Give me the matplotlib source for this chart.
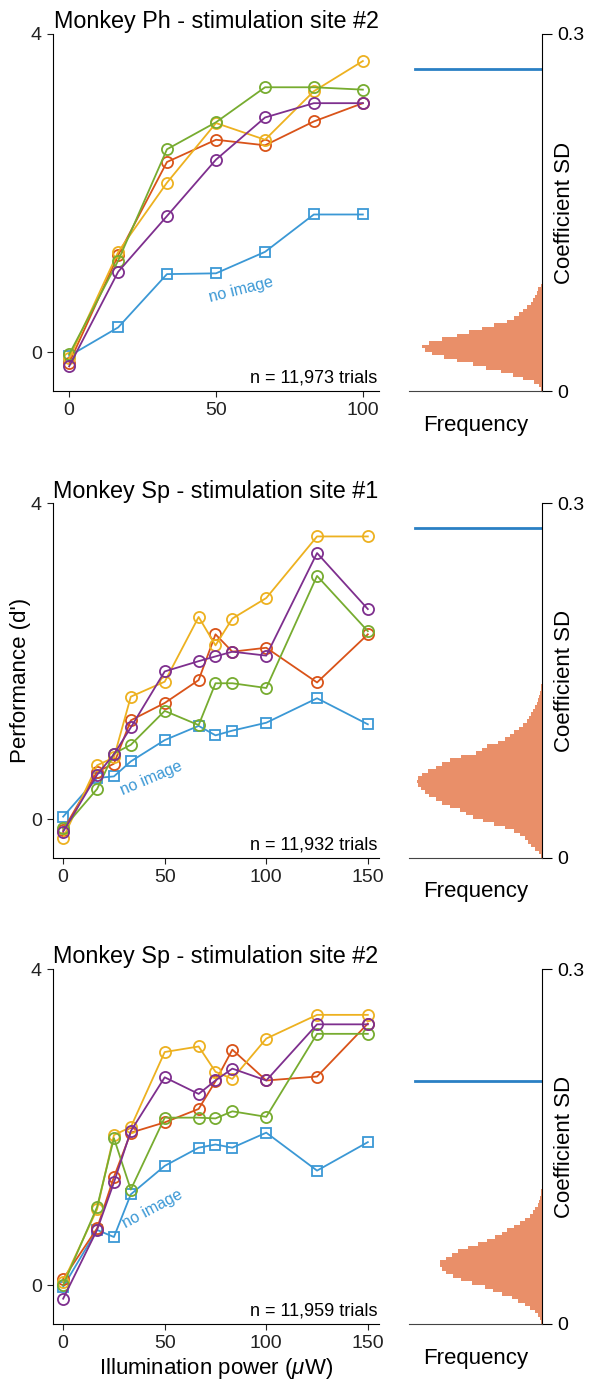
import numpy as np
import matplotlib
matplotlib.use("Agg")
import matplotlib.pyplot as plt

plt.rcParams['font.family'] = ['Liberation Sans', 'DejaVu Sans']
plt.rcParams['mathtext.fontset'] = 'custom'
plt.rcParams['mathtext.it'] = 'Liberation Sans:italic'

# illumination powers (uW)
power_ph = [0, 16.7, 33.3, 50, 66.7, 83.3, 100]
power_sp = [0, 16.7, 25, 33.3, 50, 66.7, 75, 83.3, 100, 125, 150]

# Monkey Ph - site #2
ph2_noimg = [-0.05, 0.31, 0.98, 0.99, 1.26, 1.73, 1.73]
ph2_red = [-0.14, 1.22, 2.39, 2.67, 2.60, 2.90, 3.13]
ph2_yellow = [-0.08, 1.26, 2.13, 2.88, 2.67, 3.28, 3.66]
ph2_green = [-0.03, 1.15, 2.55, 2.89, 3.33, 3.33, 3.30]
ph2_purple = [-0.18, 1.01, 1.71, 2.42, 2.95, 3.13, 3.13]

# Monkey Sp - site #1
sp1_noimg = [0.03, 0.52, 0.54, 0.73, 1.00, 1.18, 1.06, 1.12, 1.22, 1.53, 1.20]
sp1_red = [-0.14, 0.60, 0.70, 1.25, 1.47, 1.76, 2.34, 2.12, 2.17, 1.73, 2.34]
sp1_yellow = [-0.24, 0.68, 0.78, 1.55, 1.74, 2.56, 2.20, 2.54, 2.80, 3.58, 3.58]
sp1_green = [-0.12, 0.38, 0.83, 0.94, 1.37, 1.19, 1.72, 1.72, 1.66, 3.08, 2.38]
sp1_purple = [-0.16, 0.56, 0.82, 1.16, 1.87, 2.00, 2.06, 2.12, 2.07, 3.37, 2.66]

# Monkey Sp - site #2
sp2_noimg = [-0.02, 0.70, 0.61, 1.15, 1.51, 1.74, 1.78, 1.74, 1.93, 1.45, 1.81]
sp2_red = [0.08, 0.72, 1.37, 1.93, 2.06, 2.23, 2.58, 2.98, 2.59, 2.64, 3.31]
sp2_yellow = [0.04, 0.96, 1.90, 2.00, 2.95, 3.02, 2.70, 2.61, 3.12, 3.42, 3.42]
sp2_green = [0.00, 0.99, 1.86, 1.21, 2.12, 2.12, 2.11, 2.20, 2.13, 3.18, 3.18]
sp2_purple = [-0.17, 0.70, 1.30, 1.95, 2.63, 2.42, 2.59, 2.74, 2.59, 3.30, 3.30]

titles = ['Monkey Ph - stimulation site #2',
          'Monkey Sp - stimulation site #1',
          'Monkey Sp - stimulation site #2']
n_trials = ['n = 11,973 trials', 'n = 11,932 trials', 'n = 11,959 trials']

# coefficient SD histograms (bin width 0.003, relative frequency)
sd_bin = 0.003
hist_ph2 = [0.01, 0.02, 0.06, 0.14, 0.22, 0.31, 0.42, 0.52, 0.64, 0.74, 0.83, 0.88,
            0.90, 0.85, 0.75, 0.64, 0.55, 0.45, 0.36, 0.26, 0.21, 0.17, 0.14, 0.11,
            0.08, 0.07, 0.05, 0.04, 0.03, 0.01]
hist_sp1 = [0.01, 0.025, 0.05, 0.08, 0.105, 0.13, 0.165, 0.21, 0.28, 0.36, 0.44, 0.52,
            0.57, 0.62, 0.69, 0.75, 0.80, 0.85, 0.88, 0.91, 0.93, 0.94, 0.93, 0.90,
            0.86, 0.80, 0.75, 0.69, 0.61, 0.50, 0.45, 0.41, 0.33, 0.28, 0.24, 0.21,
            0.17, 0.14, 0.115, 0.095, 0.08, 0.065, 0.05, 0.035, 0.027, 0.02, 0.013,
            0.008, 0.004]
hist_sp2 = [0.005, 0.012, 0.03, 0.055, 0.09, 0.13, 0.18, 0.225, 0.30, 0.37, 0.43, 0.53,
            0.61, 0.67, 0.72, 0.75, 0.77, 0.77, 0.72, 0.68, 0.63, 0.56, 0.48, 0.41,
            0.35, 0.30, 0.26, 0.21, 0.165, 0.125, 0.09, 0.07, 0.05, 0.033, 0.022,
            0.015, 0.009, 0.005, 0.003]
model_sd = [0.271, 0.279, 0.205]

c_blue = '#3B98D5'
c_red = '#D95319'
c_yellow = '#EDB120'
c_green = '#77AC30'
c_purple = '#7E2F8E'
c_hist = '#E98F69'
c_sdline = '#2A80C4'

panels = [
    (power_ph, [ph2_noimg, ph2_red, ph2_yellow, ph2_green, ph2_purple], (-5.5, 105.5),
     [0, 50, 100], (58.7, 0.78, 14), hist_ph2),
    (power_sp, [sp1_noimg, sp1_red, sp1_yellow, sp1_green, sp1_purple], (-5, 155.5),
     [0, 50, 100, 150], (43.5, 0.52, 23), hist_sp1),
    (power_sp, [sp2_noimg, sp2_red, sp2_yellow, sp2_green, sp2_purple], (-5, 155.5),
     [0, 50, 100, 150], (44, 0.97, 28), hist_sp2),
]
colors = [c_blue, c_red, c_yellow, c_green, c_purple]

W, H = 592, 1389
fig = plt.figure(figsize=(W / 100, H / 100), dpi=100)

# pixel boxes (top, bottom) of each row
rows = [(34, 391), (503.3, 857.7), (969, 1324)]

for i, (xs, series, xlim, xticks, lab, hist) in enumerate(panels):
    top, bot = rows[i]
    ax = fig.add_axes([53 / W, 1 - bot / H, 326 / W, (bot - top) / H])
    for k, (ys, col) in enumerate(zip(series, colors)):
        if k == 0:
            ax.plot(xs, ys, '-s', color=col, lw=1.3, ms=6.5, mfc='none', mew=1.3)
        else:
            ax.plot(xs, ys, '-o', color=col, lw=1.3, ms=8, mfc='none', mew=1.3)
    ax.text(lab[0], lab[1], 'no image', color=c_blue, fontsize=11.5, rotation=lab[2],
            ha='center', va='center', rotation_mode='anchor')
    ax.set_xlim(*xlim)
    ax.set_ylim(-0.49, 4)
    ax.set_xticks(xticks)
    ax.set_yticks([0, 4])
    for s in ['top', 'right']:
        ax.spines[s].set_visible(False)
    ax.tick_params(direction='out', length=4, width=0.8, labelsize=14, pad=4, colors='#222222')
    ax.set_title(titles[i], fontsize=16.8, pad=4)
    ax.text(0.995, 0.012, n_trials[i], transform=ax.transAxes, ha='right', va='bottom',
            fontsize=13)
    if i == 1:
        ax.set_ylabel("Performance (d')", fontsize=16, labelpad=0)
    if i == 2:
        ax.set_xlabel(r'Illumination power ($\mu$W)', fontsize=16, labelpad=3)

    # histogram of coefficient SD
    hx = fig.add_axes([409 / W, 1 - bot / H, 133 / W, (bot - top) / H])
    edges = np.arange(len(hist) + 1) * sd_bin
    hx.stairs(hist, edges, orientation='horizontal', fill=True, color=c_hist, lw=0)
    hx.axhline(model_sd[i], xmin=0.045, xmax=1, color=c_sdline, lw=2)
    hx.set_xlim(1, 0)
    hx.set_ylim(0, 0.3)
    hx.set_xticks([])
    hx.set_yticks([0, 0.3])
    hx.set_yticklabels(['0', '0.3'])
    hx.yaxis.tick_right()
    hx.spines['left'].set_visible(False)
    hx.spines['top'].set_visible(False)
    hx.spines['bottom'].set_color('#444444')
    hx.tick_params(axis='y', direction='out', length=7, width=0.8, labelsize=14, pad=4)
    hx.set_xlabel('Frequency', fontsize=16, labelpad=17)
    hx.text(1.17, 0.5, 'Coefficient SD', transform=hx.transAxes, rotation=90,
            ha='center', va='center', fontsize=16)

fig.savefig('out.png', dpi=100)
